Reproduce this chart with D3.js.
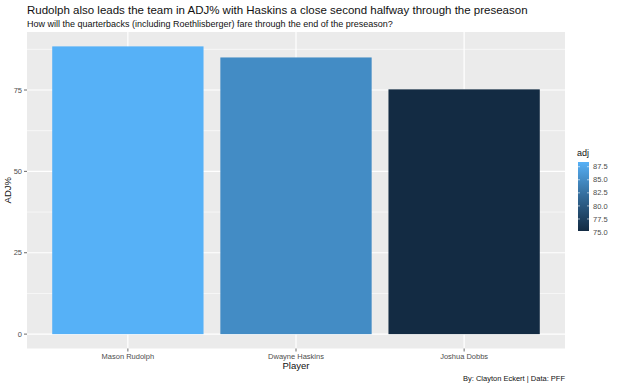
<!DOCTYPE html>
<html><head><meta charset="utf-8">
<script src="https://cdn.jsdelivr.net/npm/d3@7"></script>
<style>body{margin:0;background:#fff}svg{display:block;font-family:"Liberation Sans",Arial,sans-serif}</style>
</head><body>
<svg id="c" width="620" height="386"></svg>
<script>
const players = ["Mason Rudolph", "Dwayne Haskins", "Joshua Dobbs"];
const adj = [88.4, 85.0, 75.2];
const yTicks = [0, 25, 50, 75];
const legendTicks = [75.0, 77.5, 80.0, 82.5, 85.0, 87.5];

const svg = d3.select("#c");
const P = {l: 27, r: 565, t: 32, b: 348.5};

const maxV = d3.max(adj), minV = d3.min(adj);
const y = d3.scaleLinear().domain([-maxV*0.05, maxV*1.05]).range([P.b, P.t]);
// ggplot discrete expansion: category centers at 0.6+i units out of 3.2 total
const x = d3.scalePoint().domain(players).range([P.l + 0.6*(P.r-P.l)/3.2, P.r - 0.6*(P.r-P.l)/3.2]);
const unit = (P.r - P.l) / 3.2;
const bw = 0.9 * unit;
const color = d3.scaleLinear().domain([minV, maxV]).range(["#132B43", "#56B1F7"]).interpolate(d3.interpolateLab);

// panel
svg.append("rect").attr("x", P.l).attr("y", P.t).attr("width", P.r - P.l).attr("height", P.b - P.t).attr("fill", "#EBEBEB");
// minor grid
[12.5, 37.5, 62.5, 87.5].forEach(t => {
  svg.append("line").attr("x1", P.l).attr("x2", P.r).attr("y1", y(t)).attr("y2", y(t)).attr("stroke", "#fff").attr("stroke-width", 0.6);
});
yTicks.forEach(t => {
  svg.append("line").attr("x1", P.l).attr("x2", P.r).attr("y1", y(t)).attr("y2", y(t)).attr("stroke", "#fff").attr("stroke-width", 1.2);
});
players.forEach(p => {
  svg.append("line").attr("x1", x(p)).attr("x2", x(p)).attr("y1", P.t).attr("y2", P.b).attr("stroke", "#fff").attr("stroke-width", 1.2);
});
// bars
svg.selectAll(".bar").data(adj).enter().append("rect")
  .attr("x", (d, i) => x(players[i]) - bw/2).attr("width", bw)
  .attr("y", d => y(d)).attr("height", d => y(0) - y(d))
  .attr("fill", d => color(d));

// y axis
yTicks.forEach(t => {
  svg.append("line").attr("x1", P.l - 3).attr("x2", P.l).attr("y1", y(t)).attr("y2", y(t)).attr("stroke", "#444").attr("stroke-width", 0.8);
  svg.append("text").attr("x", P.l - 5).attr("y", y(t)).attr("dy", "0.35em").attr("text-anchor", "end")
    .attr("font-size", 7.5).attr("fill", "#4D4D4D").text(t);
});
// x axis
players.forEach(p => {
  svg.append("line").attr("x1", x(p)).attr("x2", x(p)).attr("y1", P.b).attr("y2", P.b + 3).attr("stroke", "#444").attr("stroke-width", 0.8);
  svg.append("text").attr("x", x(p)).attr("y", P.b + 10).attr("text-anchor", "middle")
    .attr("font-size", 7.5).attr("fill", "#4D4D4D").text(p);
});
svg.append("text").attr("x", (P.l + P.r)/2).attr("y", 369).attr("text-anchor", "middle").attr("font-size", 9.5).attr("fill", "#111").text("Player");
svg.append("text").attr("transform", `translate(11,${(P.t+P.b)/2}) rotate(-90)`).attr("text-anchor", "middle").attr("font-size", 9.5).attr("fill", "#111").text("ADJ%");

// titles
svg.append("text").attr("x", P.l).attr("y", 14).attr("font-size", 11.5).attr("fill", "#111").text("Rudolph also leads the team in ADJ% with Haskins a close second halfway through the preseason");
svg.append("text").attr("x", P.l).attr("y", 27).attr("font-size", 9).attr("fill", "#111").text("How will the quarterbacks (including Roethlisberger) fare through the end of the preseason?");
svg.append("text").attr("x", P.r).attr("y", 381).attr("text-anchor", "end").attr("font-size", 7.5).attr("fill", "#111").text("By: Clayton Eckert | Data: PFF");

// legend
const L = {x: 578, w: 11, top: 162, bot: 231};
const ly = d3.scaleLinear().domain([minV, maxV]).range([L.bot, L.top]);
const defs = svg.append("defs");
const grad = defs.append("linearGradient").attr("id", "g").attr("x1", 0).attr("x2", 0).attr("y1", 1).attr("y2", 0);
d3.range(0, 1.001, 0.1).forEach(s => grad.append("stop").attr("offset", s).attr("stop-color", color(minV + s*(maxV-minV))));
svg.append("text").attr("x", L.x - 1).attr("y", 156).attr("font-size", 9).attr("fill", "#111").text("adj");
svg.append("rect").attr("x", L.x).attr("y", L.top).attr("width", L.w).attr("height", L.bot - L.top).attr("fill", "url(#g)");
legendTicks.forEach(t => {
  svg.append("line").attr("x1", L.x).attr("x2", L.x + 2).attr("y1", ly(t)).attr("y2", ly(t)).attr("stroke", "#fff").attr("stroke-width", 0.6);
  svg.append("line").attr("x1", L.x + L.w - 2).attr("x2", L.x + L.w).attr("y1", ly(t)).attr("y2", ly(t)).attr("stroke", "#fff").attr("stroke-width", 0.6);
  svg.append("text").attr("x", L.x + L.w + 4).attr("y", ly(t)).attr("dy", "0.35em").attr("font-size", 7.5).attr("fill", "#4D4D4D").text(t.toFixed(1));
});
</script>
</body></html>
